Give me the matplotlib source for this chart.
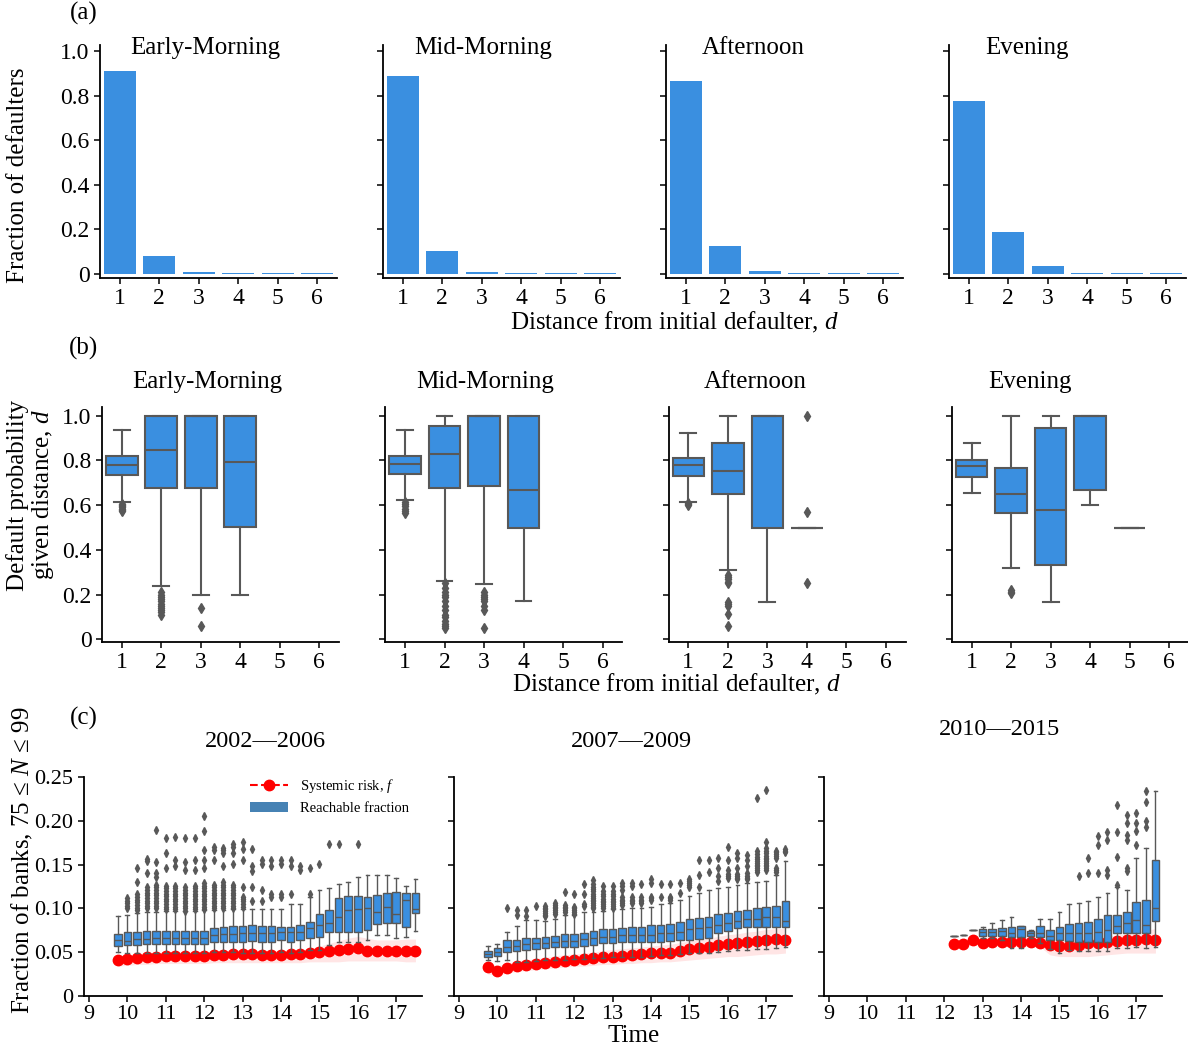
import matplotlib.pyplot as plt
from matplotlib.lines import Line2D
from matplotlib.patches import Patch

plt.rcParams['font.family'] = ['Liberation Serif', 'DejaVu Serif']
plt.rcParams['mathtext.fontset'] = 'custom'
plt.rcParams['mathtext.rm'] = 'Liberation Serif'
plt.rcParams['mathtext.it'] = 'Liberation Serif:italic'

BLUE = '#3a8fe0'
GREY = '#585858'
W, H = 1188, 1051

# ---------------- DATA ----------------
periods = ['Early-Morning', 'Mid-Morning', 'Afternoon', 'Evening']
distances = [1, 2, 3, 4, 5, 6]

# (a) fraction of defaulters at distance d
frac_defaulters = [
    [0.910, 0.081, 0.006, 0.002, 0.002, 0.002],
    [0.890, 0.100, 0.006, 0.002, 0.002, 0.002],
    [0.865, 0.124, 0.013, 0.003, 0.003, 0.003],
    [0.775, 0.187, 0.036, 0.003, 0.003, 0.003],
]

# (b) default probability given distance (box statistics per period)
prob_q1 = [[.736, .678, .675, .503], [.739, .675, .685, .500],
           [.730, .648, .500, .500], [.727, .563, .331, .666, .500]]
prob_med = [[.781, .846, 1.0, .791], [.782, .827, 1.0, .666],
            [.778, .755, 1.0, .500], [.775, .651, .578, 1.0, .500]]
prob_q3 = [[.821, 1.0, 1.0, 1.0], [.821, .955, 1.0, 1.0],
           [.812, .879, 1.0, .500], [.804, .767, .943, 1.0, .500]]
prob_lo = [[.612, .237, .200, .200], [.622, .260, .248, .170],
           [.615, .309, .166, .500], [.655, .320, .166, .600, .500]]
prob_hi = [[.934, 1.0, 1.0, 1.0], [.937, 1.0, 1.0, 1.0],
           [.921, 1.0, 1.0, .500], [.879, 1.0, 1.0, 1.0, .500]]
prob_fliers = [
    [[.575, .58, .585, .59, .595, .60, .605],
     [.11, .12, .13, .14, .15, .16, .17, .18, .19, .20, .21],
     [.14, .06], []],
    [[.565, .575, .585, .595, .605, .615],
     [.05, .06, .07, .08, .10, .11, .13, .15, .17, .19, .20, .21, .23, .25],
     [.05, .13, .15, .17, .18, .19, .20, .21], []],
    [[.60, .605, .61],
     [.287, .278, .268, .258, .25, .167, .158, .148, .115, .058],
     [], [1.0, .57, .252]],
    [[], [.22, .21, .205], [], [], []],
]

# (c) reachable fraction and systemic risk over the day
years = ['2002\u20142006', '2007\u20142009', '2010\u20142015']

time_a = [9.75, 10.0, 10.25, 10.5, 10.75, 11.0, 11.25, 11.5, 11.75, 12.0, 12.25,
          12.5, 12.75, 13.0, 13.25, 13.5, 13.75, 14.0, 14.25, 14.5, 14.75, 15.0,
          15.25, 15.5, 15.75, 16.0, 16.25, 16.5, 16.75, 17.0, 17.25, 17.5]
time_b = time_a
time_c = [12.25, 12.5, 12.75, 13.0, 13.25, 13.5, 13.75, 14.0, 14.25, 14.5, 14.75,
          15.0, 15.25, 15.5, 15.75, 16.0, 16.25, 16.5, 16.75, 17.0, 17.25, 17.5]

reach_q3_a = [.0708, .0727, .0734, .0742, .0742, .0742, .0742, .0746, .0746, .0746, .0773,
              .0791, .0799, .0803, .0811, .0803, .0803, .0791, .0791, .0811, .0849, .0936,
              .0982, .1115, .1142, .1142, .1134, .1149, .1180, .1187, .1172, .1180]
reach_q1_a = [.0571, .0582, .0582, .0590, .0590, .0594, .0594, .0594, .0594, .0594, .0620,
              .0620, .0620, .0620, .0628, .0620, .0620, .0640, .0620, .0640, .0658, .0677,
              .0734, .0727, .0734, .0734, .0753, .0822, .0837, .0830, .0784, .0944]
reach_med_a = [.0640, .0632, .0647, .0655, .0658, .0658, .0658, .0662, .0662, .0662, .0696,
               .0708, .0708, .0715, .0715, .0715, .0715, .0734, .0734, .0734, .0773, .0811,
               .0837, .0906, .0982, .0989, .1001, .0963, .1012, .0936, .1096, .0989]
reach_hi_a = [.0913, .0925, .0944, .0963, .0963, .0974, .0974, .0974, .0974, .0982, .0982,
              .0982, .0989, .0989, .0989, .0989, .0989, .0989, .1050, .1046, .1134, .1210,
              .1229, .1275, .1305, .1355, .1381, .1381, .1381, .1343, .1256, .1332]
reach_lo_a = [.0506, .0495, .0495, .0495, .0487, .0487, .0487, .0487, .0487, .0487, .0506,
              .0506, .0506, .0495, .0495, .0495, .0495, .0506, .0495, .0506, .0525, .0525,
              .0582, .0620, .0620, .0620, .0640, .0696, .0696, .0658, .0677, .0746]
reach_fliers_a = [
    [], [.100, .103, .106, .109, .112],
    [.098, .101, .104, .107, .110, .113, .116, .130, .146],
    [.100, .103, .106, .109, .112, .115, .118, .121, .124, .140, .154, .156],
    [.100, .103, .106, .109, .112, .115, .118, .121, .124, .127, .136, .140, .153, .189],
    [.099, .102, .105, .108, .111, .114, .117, .120, .123, .126, .146, .163, .180],
    [.099, .102, .105, .108, .111, .114, .117, .120, .123, .126, .148, .155, .181],
    [.097, .100, .103, .106, .109, .112, .115, .118, .121, .124, .144, .153, .180],
    [.099, .102, .105, .108, .111, .114, .117, .120, .123, .126, .144, .155, .180],
    [.099, .102, .105, .108, .111, .114, .117, .120, .123, .126, .129, .146, .155, .167, .188, .205],
    [.100, .103, .106, .109, .112, .115, .118, .121, .124, .127, .155, .167, .170],
    [.100, .103, .106, .109, .112, .115, .118, .121, .124, .127, .130, .148, .163, .167, .169],
    [.100, .103, .106, .109, .112, .115, .118, .121, .124, .127, .151, .163, .170, .174],
    [.102, .105, .108, .111, .113, .124, .155, .168, .176],
    [.109, .124, .143, .148, .168], [.108, .121, .151, .155], [.113, .117, .148, .155],
    [.113, .117, .151, .155], [.117, .148, .155], [.144, .148], [.117, .146], [.151],
    [.174], [.174], [], [.174], [], [], [], [], [], [],
]
risk_a = [.0411, .0423, .0434, .0442, .0449, .0457, .0457, .0457, .0461, .0461, .0472,
          .0472, .0480, .0476, .0476, .0472, .0472, .0472, .0476, .0476, .0491, .0506,
          .0518, .0525, .0540, .0544, .0518, .0518, .0518, .0510, .0518, .0514]
risk_low_a = [.034, .035, .036, .036, .037, .037, .037, .037, .037, .037, .038,
              .038, .038, .038, .038, .038, .038, .038, .038, .038, .039, .039,
              .039, .039, .040, .040, .040, .040, .040, .040, .039, .039]
risk_high_a = [.046, .047, .048, .048, .049, .050, .050, .050, .050, .050, .051,
               .051, .052, .052, .052, .052, .052, .052, .052, .052, .054, .057,
               .060, .063, .066, .068, .066, .064, .064, .064, .065, .065]

reach_q3_b = [.0518, .0544, .0640, .0640, .0658, .0658, .0677, .0689, .0704, .0704, .0723,
              .0746, .0761, .0761, .0780, .0791, .0791, .0811, .0811, .0822, .0849, .0875,
              .0887, .0906, .0936, .0951, .0974, .0982, .1001, .1012, .1027, .1088]
reach_q1_b = [.0442, .0457, .0506, .0514, .0525, .0533, .0544, .0556, .0556, .0556, .0571,
              .0582, .0601, .0601, .0620, .0620, .0620, .0620, .0620, .0628, .0640, .0640,
              .0651, .0658, .0715, .0746, .0773, .0791, .0791, .0791, .0784, .0784]
reach_med_b = [.0480, .0506, .0563, .0571, .0594, .0601, .0609, .0617, .0624, .0632, .0647,
               .0666, .0670, .0677, .0696, .0696, .0696, .0696, .0715, .0715, .0734, .0765,
               .0773, .0791, .0811, .0830, .0856, .0879, .0879, .0898, .0898, .0860]
reach_hi_b = [.0575, .0594, .0734, .0803, .0868, .0868, .0860, .0875, .0925, .0925, .0955,
              .0963, .0974, .0989, .0989, .1001, .1001, .1020, .1050, .1058, .1096, .1142,
              .1172, .1210, .1229, .1241, .1267, .1286, .1305, .1317, .1381, .1541]
reach_lo_b = [.0411, .0400, .0411, .0392, .0392, .0403, .0411, .0411, .0411, .0419, .0419,
              .0430, .0430, .0442, .0442, .0449, .0449, .0457, .0468, .0468, .0476, .0487,
              .0495, .0495, .0506, .0514, .0525, .0525, .0533, .0533, .0544, .0563]
reach_fliers_b = [
    [], [], [.101], [.093, .098], [.091, .098], [.103],
    [.091, .093, .095, .097, .099, .101, .103],
    [.094, .096, .098, .100, .102, .104, .106],
    [.096, .098, .100, .102, .104, .119],
    [.094, .096, .098, .100, .102, .116],
    [.103, .105, .117, .128],
    [.100, .102, .104, .106, .108, .110, .112, .114, .117, .120, .122, .125, .128, .132],
    [.101, .103, .105, .107, .109, .111, .114, .117, .120, .126],
    [.101, .103, .105, .107, .109, .111, .114, .117, .120, .126],
    [.104, .106, .108, .110, .113, .121, .126, .129],
    [.106, .108, .110, .113, .126, .129],
    [.106, .108, .110, .113, .128],
    [.110, .112, .113, .129, .133],
    [.113, .128], [.110, .112, .113, .128], [.118, .129],
    [.124, .127, .129, .131, .133], [.125, .138, .155], [.141, .155],
    [.131, .137, .146, .158], [.135, .137, .139, .144, .155, .170],
    [.133, .135, .137, .139, .146, .157, .163], [.133, .135, .137, .140, .148, .155, .161],
    [.142, .144, .146, .148, .150, .152, .154, .156, .159, .162, .165, .226],
    [.144, .146, .148, .150, .152, .154, .156, .158, .160, .163, .166, .169, .176, .235],
    [.142, .144, .146, .158, .160, .162, .164, .166],
    [.164, .166, .168],
]
risk_b = [.0327, .0285, .0316, .0343, .0354, .0365, .0381, .0392, .0400, .0411, .0419,
          .0430, .0442, .0449, .0461, .0468, .0480, .0487, .0495, .0495, .0518, .0533,
          .0544, .0563, .0578, .0594, .0601, .0620, .0632, .0640, .0647, .0640]
risk_low_b = [.025, .024, .026, .028, .029, .030, .031, .032, .033, .034, .034,
              .035, .036, .036, .037, .037, .038, .038, .039, .039, .040, .041,
              .042, .043, .044, .045, .045, .046, .047, .048, .048, .049]
risk_high_b = [.037, .035, .037, .040, .041, .043, .044, .046, .047, .048, .049,
               .050, .052, .053, .054, .055, .056, .057, .058, .059, .061, .063,
               .064, .066, .068, .070, .071, .073, .074, .076, .077, .077]

reach_q3_c = [.0689, .0697, .0757, .0761, .0765, .0773, .0784, .0795, .0742, .0799, .0753,
              .0791, .0818, .0830, .0849, .0875, .0925, .0925, .0963, .1073, .1096, .1553]
reach_q1_c = [.0689, .0697, .0757, .0689, .0685, .0689, .0670, .0670, .0685, .0670, .0640,
              .0640, .0632, .0620, .0620, .0620, .0620, .0723, .0723, .0723, .0715, .0860]
reach_med_c = [.0689, .0697, .0757, .0727, .0734, .0746, .0723, .0769, .0723, .0723, .0685,
               .0715, .0715, .0715, .0723, .0734, .0753, .0799, .0830, .0868, .0811, .1001]
reach_hi_c = [.0689, .0697, .0757, .0791, .0830, .0868, .0898, .0803, .0753, .0883, .0875,
              .0963, .1046, .1058, .1085, .1126, .1172, .1248, .1210, .1579, .1693, .2344]
reach_lo_c = [.0689, .0697, .0757, .0658, .0658, .0640, .0552, .0552, .0666, .0609, .0533,
              .0495, .0525, .0518, .0518, .0518, .0518, .0552, .0552, .0556, .0544, .0563]
reach_fliers_c = [
    [], [], [], [], [], [], [], [], [], [], [], [], [],
    [.137], [.140, .158], [.140, .172, .183], [.138, .144, .178, .187],
    [.127, .159, .187, .218], [.143, .146, .178, .184, .197, .207],
    [.172, .188, .197, .209], [.193, .200, .221, .234], [],
]
risk_c = [.0590, .0598, .0643, .0601, .0613, .0620, .0613, .0617, .0617, .0609, .0578,
          .0575, .0571, .0578, .0601, .0601, .0617, .0632, .0640, .0640, .0647, .0640]
risk_low_c = [.056, .057, .060, .057, .058, .058, .057, .057, .057, .056, .047,
              .045, .045, .045, .045, .046, .047, .048, .049, .049, .049, .049]
risk_high_c = [.062, .063, .067, .064, .065, .066, .066, .066, .066, .066, .064,
               .064, .064, .064, .066, .066, .068, .070, .071, .073, .075, .077]

time_ticks = [9, 10, 11, 12, 13, 14, 15, 16, 17]


# ---------------- HELPERS ----------------
def box_stats(q1, med, q3, lo, hi, fliers):
    return [dict(q1=a, med=b, q3=c, whislo=d, whishi=e, fliers=f)
            for a, b, c, d, e, f in zip(q1, med, q3, lo, hi, fliers)]


def style_axis(ax, size=17):
    ax.spines['top'].set_visible(False)
    ax.spines['right'].set_visible(False)
    for s in ('left', 'bottom'):
        ax.spines[s].set_linewidth(1.3)
    ax.tick_params(direction='out', length=4.5, width=1.1, labelsize=size, pad=3)


def draw_boxes(ax, stats, pos, width, lw, fsize):
    ax.bxp(stats, positions=pos, widths=width, patch_artist=True,
           manage_ticks=False, zorder=3,
           boxprops=dict(facecolor=BLUE, edgecolor=GREY, linewidth=lw),
           whiskerprops=dict(color=GREY, linewidth=lw),
           capprops=dict(color=GREY, linewidth=lw),
           medianprops=dict(color=GREY, linewidth=lw),
           flierprops=dict(marker='d', markerfacecolor=GREY, markeredgecolor=GREY,
                           markersize=fsize, linestyle='none'))


fig = plt.figure(figsize=(W / 100, H / 100), dpi=100)
title_x = [0.127, 0.131, 0.150, 0.152]

# ---------------- (a) BAR CHARTS ----------------
for i, name in enumerate(periods):
    ax = fig.add_axes([(100 + 283 * i) / W, 1 - 278 / H, 237 / W, 233 / H])
    ax.bar(distances, frac_defaulters[i], width=0.8, color=BLUE)
    ax.set_xlim(0.5, 6.5)
    ax.set_ylim(-0.019, 1.027)
    ax.set_xticks(distances)
    ax.set_yticks([0, 0.2, 0.4, 0.6, 0.8, 1.0])
    style_axis(ax)
    if i == 0:
        ax.set_yticklabels(['0', '0.2', '0.4', '0.6', '0.8', '1.0'])
    else:
        ax.set_yticklabels([])
    ax.text(title_x[i], 0.987, name, transform=ax.transAxes, fontsize=18,
            ha='left', va='center')

# ---------------- (b) BOX PLOTS ----------------
for i, name in enumerate(periods):
    ax = fig.add_axes([(102 + 283.3 * i) / W, 1 - 642 / H, 237 / W, 235 / H])
    stats = box_stats(prob_q1[i], prob_med[i], prob_q3[i], prob_lo[i],
                      prob_hi[i], prob_fliers[i])
    draw_boxes(ax, stats, distances[:len(stats)], 0.8, 1.5, 5.5)
    ax.set_xlim(0.5, 6.5)
    ax.set_ylim(-0.012, 1.039)
    ax.set_xticks(distances)
    ax.set_xticklabels([str(d) for d in distances])
    ax.set_yticks([0, 0.2, 0.4, 0.6, 0.8, 1.0])
    style_axis(ax)
    if i == 0:
        ax.set_yticklabels(['0', '0.2', '0.4', '0.6', '0.8', '1.0'])
    else:
        ax.set_yticklabels([])
    ax.text(title_x[i], 1.106, name, transform=ax.transAxes, fontsize=18,
            ha='left', va='center')

# ---------------- (c) TIME SERIES ----------------
panels = [
    (time_a, reach_q1_a, reach_med_a, reach_q3_a, reach_lo_a, reach_hi_a, reach_fliers_a,
     risk_a, risk_low_a, risk_high_a),
    (time_b, reach_q1_b, reach_med_b, reach_q3_b, reach_lo_b, reach_hi_b, reach_fliers_b,
     risk_b, risk_low_b, risk_high_b),
    (time_c, reach_q1_c, reach_med_c, reach_q3_c, reach_lo_c, reach_hi_c, reach_fliers_c,
     risk_c, risk_low_c, risk_high_c),
]
year_title_pos = [(0.537, 1.164), (0.525, 1.164), (0.519, 1.219)]

for i, (t, q1, med, q3, lo, hi, fl, f, f_lo, f_hi) in enumerate(panels):
    ax = fig.add_axes([(84 + 370 * i) / W, 1 - 996 / H, 338 / W, 219 / H])
    ax.fill_between(t, f_lo, f_hi, color='red', alpha=0.1, linewidth=0, zorder=1)
    ax.plot(t, f, color='red', linestyle='--', marker='o', markersize=7.5,
            linewidth=1.2, zorder=2)
    draw_boxes(ax, box_stats(q1, med, q3, lo, hi, fl), t, 0.2, 1.0, 4.2)
    ax.set_xlim(8.87, 17.67)
    ax.set_ylim(0, 0.25)
    ax.set_xticks(time_ticks)
    ax.set_xticklabels([str(v) for v in time_ticks])
    ax.set_yticks([0, 0.05, 0.10, 0.15, 0.20, 0.25])
    style_axis(ax, size=16)
    ax.tick_params(axis='x', pad=2)
    if i == 0:
        ax.set_yticklabels(['0', '0.05', '0.10', '0.15', '0.20', '0.25'])
        handles = [Line2D([], [], color='red', linestyle='--', marker='o', markersize=7.5),
                   Patch(facecolor='steelblue')]
        ax.legend(handles, ['Systemic risk, $f$', 'Reachable fraction'],
                  loc='upper right', bbox_to_anchor=(1.0, 1.06), frameon=False,
                  fontsize=10.5, handlelength=2.6, labelspacing=0.5)
    else:
        ax.set_yticklabels([])
    tx, ty = year_title_pos[i]
    ax.text(tx, ty, years[i], transform=ax.transAxes, fontsize=17.5,
            ha='center', va='center')

# ---------------- LABELS ----------------
fig.text(84 / W, 1 - 13 / H, '(a)', fontsize=18, ha='center', va='center')
fig.text(84 / W, 1 - 348 / H, '(b)', fontsize=18, ha='center', va='center')
fig.text(84 / W, 1 - 718 / H, '(c)', fontsize=18, ha='center', va='center')

fig.text(675 / W, 1 - 322 / H, 'Distance from initial defaulter, $d$',
         fontsize=18, ha='center', va='center')
fig.text(677 / W, 1 - 684 / H, 'Distance from initial defaulter, $d$',
         fontsize=18, ha='center', va='center')
fig.text(634 / W, 1 - 1036 / H, 'Time', fontsize=18, ha='center', va='center')

fig.text(18 / W, 1 - 175 / H, 'Fraction of defaulters', fontsize=18,
         rotation=90, ha='center', va='center')
fig.text(31 / W, 1 - 495 / H, 'Default probability\ngiven distance, $d$',
         fontsize=18, rotation=90, ha='center', va='center', linespacing=1.05)
fig.text(22 / W, 1 - 860 / H, 'Fraction of banks, 75 \u2264 $N$ \u2264 99',
         fontsize=18, rotation=90, ha='center', va='center')

fig.savefig('out.png', dpi=100)
